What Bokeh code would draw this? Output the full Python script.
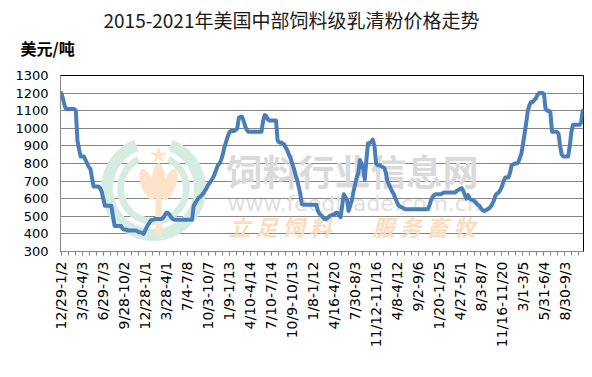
import math
from bokeh.plotting import figure
from bokeh.models import FixedTicker, Range1d, Title
from bokeh.core.properties import value
from bokeh.embed import file_html
from bokeh.resources import INLINE

# Weekly price of feed-grade whey powder (USD/ton)
prices = [
    1200, 1170, 1130, 1110, 1110, 1110, 1110, 1110, 1110, 1100,
    930, 880, 840, 840, 840, 820, 800, 780, 770, 720,
    670, 670, 670, 670, 660, 640, 600, 560, 560, 560,
    560, 560, 500, 445, 445, 445, 445, 445, 430, 425,
    425, 420, 420, 420, 420, 420, 420, 415, 410, 410,
    405, 400, 420, 440, 455, 470, 480, 480, 485, 485,
    485, 485, 485, 490, 505, 520, 520, 510, 495, 485,
    480, 480, 480, 480, 480, 480, 480, 480, 480, 480,
    480, 480, 560, 575, 590, 605, 610, 620, 630, 645,
    660, 680, 690, 705, 720, 740, 765, 790, 800, 820,
    850, 890, 920, 950, 975, 985, 985, 985, 990, 1000,
    1060, 1065, 1065, 1040, 1010, 990, 980, 980, 980, 980,
    980, 980, 980, 980, 980, 1040, 1075, 1070, 1050, 1045,
    1045, 1045, 1045, 1045, 930, 920, 920, 915, 910, 890,
    875, 850, 830, 800, 775, 740, 710, 670, 630, 570,
    565, 565, 565, 565, 565, 565, 565, 565, 565, 530,
    515, 505, 495, 485, 485, 490, 500, 505, 510, 510,
    520, 520, 505, 495, 560, 625, 610, 595, 530, 560,
    590, 640, 680, 720, 745, 820, 800, 770, 710, 820,
    915, 915, 925, 935, 900, 800, 790, 790, 785, 780,
    775, 750, 700, 680, 660, 640, 625, 600, 580, 560,
    555, 550, 545, 540, 540, 540, 540, 540, 540, 540,
    540, 540, 540, 540, 540, 540, 540, 540, 560, 590,
    610, 620, 625, 625, 625, 625, 630, 635, 635, 635,
    635, 635, 635, 635, 635, 645, 650, 655, 660, 645,
    620, 600, 620, 600, 595, 590, 585, 575, 565, 560,
    545, 535, 530, 535, 540, 545, 555, 570, 590, 620,
    630, 635, 650, 670, 700, 720, 720, 720, 750, 790,
    795, 800, 800, 805, 830, 855, 910, 970, 1030, 1100,
    1130, 1150, 1150, 1160, 1170, 1190, 1200, 1200, 1200, 1195,
    1110, 1100, 1100, 1090, 980, 980, 980, 980, 970, 900,
    850, 840, 840, 840, 840, 900, 980, 1020, 1020, 1020,
    1020, 1020, 1030, 1100,
]

week_labels = [
    "12/29-1/2", "3/30-4/3", "6/29-7/3", "9/28-10/2", "12/28-1/1",
    "3/28-4/1", "7/4-7/8", "10/3-10/7", "1/9-1/13", "4/10-4/14",
    "7/10-7/14", "10/9-10/13", "1/8-1/12", "4/16-4/20", "7/30-8/3",
    "11/12-11/16", "4/8-4/12", "9/2-9/6", "1/20-1/25", "4/27-5/1",
    "8/3-8/7", "11/16-11/20", "3/1-3/5", "5/31-6/4", "8/30-9/3",
]
label_step = 13
y_ticks = [300, 400, 500, 600, 700, 800, 900, 1000, 1100, 1200, 1300]

title_text = "2015-2021年美国中部饲料级乳清粉价格走势"
unit_text = "美元/吨"

N = len(prices)
weeks = list(range(N))

W, H = 592, 377
L, R, T, B = 60, 583, 75, 251
Y0, Y1 = 300, 1300

p = figure(width=W, height=H, x_range=Range1d(-0.5, N - 0.5), y_range=Range1d(Y0, Y1),
           output_backend="svg", toolbar_location=None,
           min_border_left=L, min_border_right=W - R, min_border_top=T, min_border_bottom=H - B)
p.background_fill_color = "white"
p.border_fill_color = "white"
p.outline_line_color = "black"
p.outline_line_width = 1

# main title (outer) and unit label (closest to the frame)
p.title.text = title_text
p.title.align = "left"
p.title.offset = 43
p.title.standoff = -29
p.title.text_font = "Noto Sans CJK SC"
p.title.text_font_size = "19px"
p.title.text_font_style = "normal"
p.title.text_color = "#1a1a1a"
p.add_layout(Title(text=unit_text, align="left", offset=-40, standoff=31,
                   text_font="Noto Sans CJK SC", text_font_size="16px",
                   text_font_style="bold", text_color="black"), "above")


def dx(px):
    return -0.5 + (px - L) / (R - L) * N


def dy(py):
    return Y1 - (py - T) / (B - T) * (Y1 - Y0)


# ---- faint watermark (logo + site text) ----
green = "#d5ece1"
orange = "#fde3c9"
p.annular_wedge(x=[dx(153)], y=[dy(188)], inner_radius=41, outer_radius=52,
                inner_radius_units="screen", outer_radius_units="screen",
                start_angle=math.radians(112), end_angle=math.radians(68),
                direction="anticlock", color=green)
p.annular_wedge(x=[dx(153)], y=[dy(188)], inner_radius=30, outer_radius=36,
                inner_radius_units="screen", outer_radius_units="screen",
                start_angle=math.radians(118), end_angle=math.radians(62),
                direction="anticlock", color=green)
p.scatter(x=[dx(158)], y=[dy(155)], marker="star", size=16, color=orange)
p.ellipse(x=[dx(147), dx(158), dx(169)], y=[dy(184), dy(180), dy(184)],
          width=[12, 12, 12], height=[32, 34, 32], angle=[0.35, 0, -0.35],
          width_units="screen", height_units="screen", color=orange)
p.rect(x=[dx(158)], y=[dy(214)], width=5, height=40,
       width_units="screen", height_units="screen", color=orange)

p.text(x=[dx(226)], y=[dy(169)], text=["饲料行业信息网"], text_font=value("Noto Sans CJK SC"),
       text_font_size="36px", text_font_style="bold", text_color="#dadada",
       text_align="left", text_baseline="middle")
p.text(x=[dx(227)], y=[dy(203)], text=["www.feedtrade.com.cn"], text_font=value("DejaVu Sans"),
       text_font_size="22px", text_color="#e0e0e0", text_align="left", text_baseline="middle")
p.text(x=[dx(228), dx(372)], y=[dy(225), dy(225)], text=["立 足 饲 料", "服 务 畜 牧"],
       text_font=value("Noto Sans CJK SC"), text_font_size="22px", text_font_style="bold italic",
       text_color="#fcdcbc", text_align="left", text_baseline="middle")

# ---- data line ----
p.line(x=weeks, y=prices, line_color="#4a7ebb", line_width=4, line_join="round", line_cap="round")

# ---- axes ----
gx = p.xaxis[0]
major = list(range(0, N, label_step))[:len(week_labels)]
minor = [k * label_step / 3 for k in range(int(N * 3 / label_step) + 1) if k * label_step / 3 <= N - 0.5]
gx.ticker = FixedTicker(ticks=major, minor_ticks=minor)
gx.major_label_overrides = {i: lab for i, lab in zip(major, week_labels)}
gx.major_label_orientation = math.pi / 2
gx.major_label_text_font = "DejaVu Sans"
gx.major_label_text_font_size = "14px"
gx.major_label_text_color = "black"
gx.major_label_standoff = 6
gx.major_tick_out = 4
gx.major_tick_in = 0
gx.minor_tick_out = 4
gx.minor_tick_in = 0
gx.axis_line_color = "#868686"
gx.major_tick_line_color = "#868686"
gx.minor_tick_line_color = "#868686"

gy = p.yaxis[0]
gy.ticker = FixedTicker(ticks=y_ticks)
gy.major_label_text_font = "DejaVu Sans"
gy.major_label_text_font_size = "13px"
gy.major_label_text_color = "black"
gy.major_tick_out = 0
gy.major_tick_in = 0
gy.minor_tick_out = 0
gy.minor_tick_in = 0
gy.major_label_standoff = 12
gy.axis_line_color = "#868686"

p.xgrid.visible = False
p.ygrid.grid_line_color = "#868686"
p.ygrid.grid_line_width = 1
p.ygrid.ticker = FixedTicker(ticks=y_ticks)

open("out.html", "w").write(file_html(p, INLINE))
